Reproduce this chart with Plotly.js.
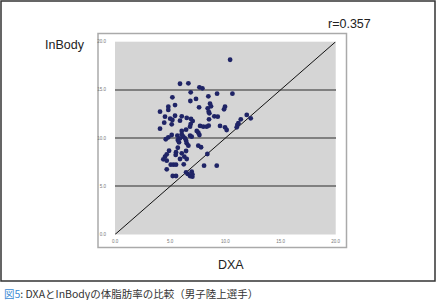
<!DOCTYPE html>
<html>
<head>
<meta charset="utf-8">
<script src="https://cdn.plot.ly/plotly-3.0.1.min.js"></script>
<style>html,body{margin:0;padding:0;background:#fff;}#chart{width:436px;height:300px;}</style>
</head>
<body>
<div id="chart"></div>
<script>
const dxa = [10.43,5.89,6.65,7.65,7.92,6.86,9.25,10.64,5.2,8.46,7.34,6.83,8.61,5.44,4.83,8.7,7.62,9.97,8.4,9.88,4.83,4.08,8.49,8.55,11.94,12.3,5.44,6.05,4.53,9.0,9.31,6.5,6.89,5.0,5.2,5.89,7.04,8.52,11.4,4.46,11.18,5.14,6.86,11.09,9.52,7.71,8.0,8.31,8.49,9.97,11.03,4.08,6.44,6.8,10.12,6.05,7.41,7.55,5.14,5.65,6.05,6.8,7.65,6.19,4.83,5.89,6.35,6.95,4.6,5.69,6.44,5.8,6.5,6.65,7.55,7.8,5.69,4.9,5.53,6.44,6.05,4.69,8.37,5.5,6.28,4.53,5.89,4.38,4.69,6.5,6.23,5.05,5.29,5.53,8.07,9.22,4.69,6.44,6.95,6.59,5.23,5.53,6.8,7.01,7.01];
const inbody = [18.13,15.64,15.68,15.27,15.16,14.75,14.61,14.61,14.23,14.33,14.06,13.85,13.57,13.43,13.26,13.3,13.19,13.26,13.09,12.99,12.92,12.74,12.74,12.57,12.4,12.05,12.32,12.26,12.22,12.26,12.22,12.09,11.98,12.01,11.88,11.81,11.77,11.95,11.95,11.6,11.54,11.43,11.46,11.36,11.26,11.26,11.18,11.18,11.29,11.12,11.12,10.98,10.87,11.18,10.84,10.74,10.74,10.56,10.32,10.25,10.39,10.25,10.32,10.15,10.08,9.98,9.98,10.15,9.88,9.8,9.73,9.56,9.46,9.21,9.21,9.05,9.0,8.69,8.53,8.66,8.42,8.32,8.35,8.25,8.07,8.07,7.83,7.8,7.66,7.83,7.28,7.24,7.24,7.24,7.14,7.14,6.76,6.45,6.51,6.28,6.07,6.07,6.07,6.0,6.24];
const lineX = [0, 20];
const lineY = [0, 20];
const tickVals = [0, 5, 10, 15, 20];
const tickText = ["0.0", "5.0", "10.0", "15.0", "20.0"];

const W = 436, H = 300;
const px = v => v / W;
const py = v => 1 - v / H;

const traces = [
  {x: lineX, y: lineY, mode: 'lines', line: {color: '#111', width: 1}, hoverinfo: 'skip'},
  {x: dxa, y: inbody, mode: 'markers', marker: {color: '#1f2466', size: 4.8}}
];

const layout = {
  width: W, height: H,
  margin: {l: 0, r: 0, t: 0, b: 0},
  paper_bgcolor: '#fff',
  plot_bgcolor: '#d5d5d5',
  showlegend: false,
  xaxis: {
    domain: [px(115), px(335.7)],
    range: [0, 20], tickvals: tickVals, ticktext: tickText,
    showgrid: false, zeroline: false, showline: false, ticks: '',
    tickfont: {family: 'Liberation Sans, Arial', size: 4.5, color: '#777'},
    ticklabelstandoff: 3
  },
  yaxis: {
    domain: [py(234.5), py(41.7)],
    range: [0, 20], tickvals: tickVals, ticktext: tickText,
    showgrid: true, gridcolor: '#808080', gridwidth: 2,
    zeroline: false, showline: false, ticks: '',
    tickfont: {family: 'Liberation Sans, Arial', size: 4.5, color: '#777'},
    ticklabelstandoff: 8
  },
  shapes: [
    {type: 'rect', xref: 'paper', yref: 'paper', x0: px(1), x1: px(435), y0: py(281), y1: py(1), line: {color: '#333', width: 1.5}, layer: 'below'},
    {type: 'rect', xref: 'paper', yref: 'paper', x0: px(98), x1: px(346.5), y0: py(247.5), y1: py(33.5), line: {color: '#aaa', width: 1.5}, layer: 'below'}
  ],
  annotations: [
    {xref: 'paper', yref: 'paper', x: px(65), y: py(45), xanchor: 'center', yanchor: 'middle', text: 'InBody', showarrow: false, font: {family: 'Liberation Sans, Arial', size: 12.5, color: '#222'}},
    {xref: 'paper', yref: 'paper', x: px(349), y: py(24), xanchor: 'center', yanchor: 'middle', text: 'r=0.357', showarrow: false, font: {family: 'Liberation Sans, Arial', size: 12.5, color: '#222'}},
    {xref: 'paper', yref: 'paper', x: px(230.5), y: py(265), xanchor: 'center', yanchor: 'middle', text: 'DXA', showarrow: false, font: {family: 'Liberation Sans, Arial', size: 12.5, color: '#222'}},
    {xref: 'paper', yref: 'paper', x: px(2), y: py(293), xanchor: 'left', yanchor: 'middle', text: '<span style="color:#3a8ad4">図5</span>: DXAとInBodyの体脂肪率の比較（男子陸上選手）', showarrow: false, font: {family: 'Noto Sans CJK JP', size: 10.5, color: '#333'}}
  ]
};

Plotly.newPlot('chart', traces, layout, {displayModeBar: false, staticPlot: true});
</script>
</body>
</html>
